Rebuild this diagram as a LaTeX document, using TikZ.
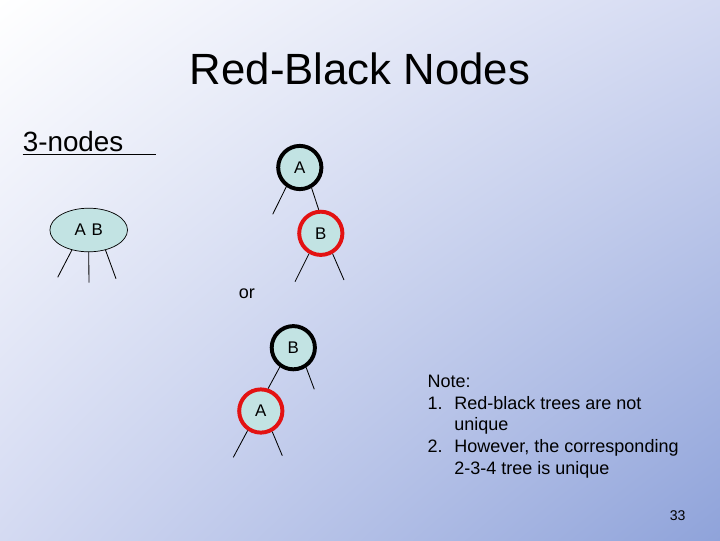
\documentclass[tikz,border=0pt]{standalone}
\usepackage{fontspec}
\setmainfont{Liberation Sans}
\usetikzlibrary{shapes.geometric,shadings}
\definecolor{NodeFill}{HTML}{C2E3E3}
\definecolor{RbRed}{HTML}{E31212}
\definecolor{BgCorner}{HTML}{D4DAF2}
\definecolor{BgDeep}{HTML}{8FA3DA}
\tikzset{
  blacknode/.style = {circle, draw=black, line width=2.8pt, fill=NodeFill,
                      minimum size=1.08cm, inner sep=0pt,
                      font=\fontsize{12}{14}\selectfont},
  rednode/.style   = {blacknode, draw=RbRed},
  threenode/.style = {ellipse, draw=black, line width=0.5pt, fill=NodeFill,
                      minimum width=1.94cm, minimum height=1.09cm, inner sep=0pt,
                      font=\fontsize{12}{14}\selectfont},
  branch/.style    = {line width=0.6pt},
  title/.style     = {font=\fontsize{31.1}{34}\selectfont, inner sep=0pt},
  heading/.style   = {font=\fontsize{19.8}{22}\selectfont, inner sep=0pt},
  note/.style      = {font=\fontsize{12.8}{15.35}\selectfont, inner sep=0pt},
}

\begin{document}
\begin{tikzpicture}[x=0.025cm, y=-0.025cm]
  % slide background
  \shade[upper left=white, upper right=BgCorner, lower left=BgCorner,
         lower right=BgDeep] (0,0) rectangle (720,540);
  \useasboundingbox (0,0) rectangle (720,540);

  \node[title, anchor=base] (ttl) at (360,84) {Red-Black Nodes};
  \node[heading, anchor=base west] (hd) at (22.5,151.5) {3-nodes};
  \draw[line width=1pt] ([yshift=-2pt]hd.base west) -- +(133,0);

  % 2-3-4 node
  \node[threenode] (ab) at (88.7,230) {A\,\,B};
  \coordinate (ab1) at (57.7,277.3);
  \coordinate (ab2) at (89,282.7);
  \coordinate (ab3) at (116,278.7);
  \draw[branch] (ab.230) -- (ab1);
  \draw[branch] (ab.south) -- (ab2);
  \draw[branch] (ab.310) -- (ab3);

  % first red-black form
  \node[blacknode] (ta) at (299.8,167.5) {A};
  \node[rednode]   (tb) at (320.8,233.3) {B};
  \coordinate (ta1) at (272.7,214.3);
  \coordinate (tb1) at (295,281.7);
  \coordinate (tb2) at (344,280);
  \draw[branch] (ta.235) -- (ta1);
  \draw[branch] (ta.300) -- (tb.95);
  \draw[branch] (tb.240) -- (tb1);
  \draw[branch] (tb.300) -- (tb2);

  \node[note, anchor=base west] (or) at (238.5,298.5) {or};

  % second red-black form
  \node[blacknode] (sb) at (293.3,347.7) {B};
  \node[rednode]   (sa) at (260.8,411)   {A};
  \coordinate (sb1) at (314.3,389.3);
  \coordinate (sa1) at (233.3,457.3);
  \coordinate (sa2) at (282.3,455.7);
  \draw[branch] (sb.235) -- (sa.72);
  \draw[branch] (sb.303) -- (sb1);
  \draw[branch] (sa.236) -- (sa1);
  \draw[branch] (sa.299) -- (sa2);

  \node[note, anchor=base west] (nt) at (427.3,387.7) {%
    \begin{tabular}[t]{@{}l@{}}
      Note:\\
      \makebox[19.1pt][l]{1.}Red-black trees are not\\
      \hspace*{19.1pt}unique\\
      \makebox[19.1pt][l]{2.}However, the corresponding\\
      \hspace*{19.1pt}2-3-4 tree is unique
    \end{tabular}};

  \node[inner sep=0pt, anchor=base east, font=\fontsize{10}{12}\selectfont]
    (pg) at (685.7,520) {33};
\end{tikzpicture}
\end{document}
